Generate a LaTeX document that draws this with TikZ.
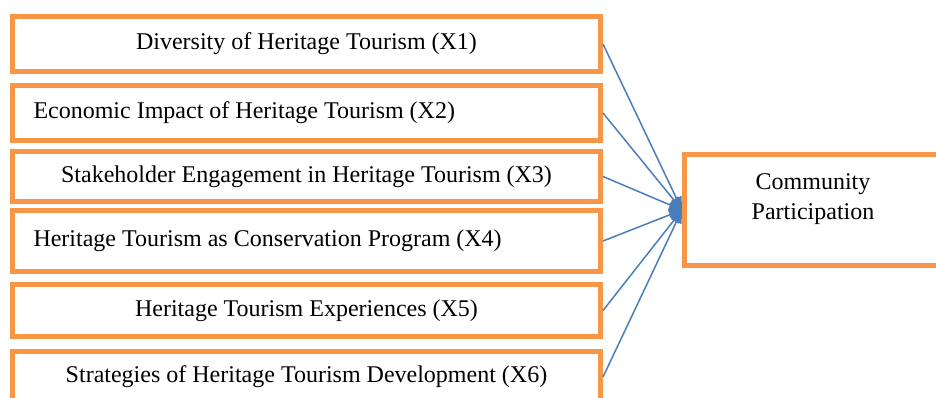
\documentclass[tikz,border=0pt]{standalone}
\usepackage{fontspec}
\setmainfont{Liberation Serif}
\usetikzlibrary{positioning, arrows.meta}
\definecolor{boxorange}{RGB}{247,150,70}
\definecolor{linkblue}{RGB}{74,126,187}
\tikzset{
x=1pt, y=-1pt, % work in points, y going down the page
>={Triangle[length=13pt, width=11pt]}, % filled arrow heads
factor/.style={draw=boxorange, line width=5pt, fill=white, minimum width=588pt, font=\fontsize{24}{30}\selectfont}, % sets the look of each variable box
leftset/.style={align=flush left, text width=546pt, inner xsep=21pt}, % text pushed to the left edge
link/.style={->, draw=linkblue, line width=1.5pt}, % the edges into the outcome
}

\begin{document}
\begin{tikzpicture}
        \useasboundingbox (0,0) rectangle (936,397);
        \clip (0,0) rectangle (936,397);

        \node[factor, minimum height=55pt] (x1) at (306.5,44) {Diversity of Heritage Tourism (X1)};
        \node[factor, leftset, minimum height=55pt, below=9pt of x1] (x2) {Economic Impact of Heritage Tourism (X2)};
        \node[factor, minimum height=50pt, below=6pt of x2] (x3) {Stakeholder Engagement in Heritage Tourism (X3)};
        \node[factor, leftset, minimum height=61pt, below=4pt of x3] (x4) {Heritage Tourism as Conservation Program (X4)};
        \node[factor, minimum height=52pt, below=8pt of x4] (x5) {Heritage Tourism Experiences (X5)};
        \node[factor, minimum height=51pt, below=10pt of x5] (x6) {Strategies of Heritage Tourism Development (X6)};

        \node[factor, minimum width=257pt, minimum height=111pt, align=center, text depth=27pt] (cp) at (813,210) {Community\\Participation};

        \foreach \v in {x1,x2,x3,x4,x5,x6}
            \draw[link] (\v.east) -- (cp.west);
    \end{tikzpicture}
\end{document}
